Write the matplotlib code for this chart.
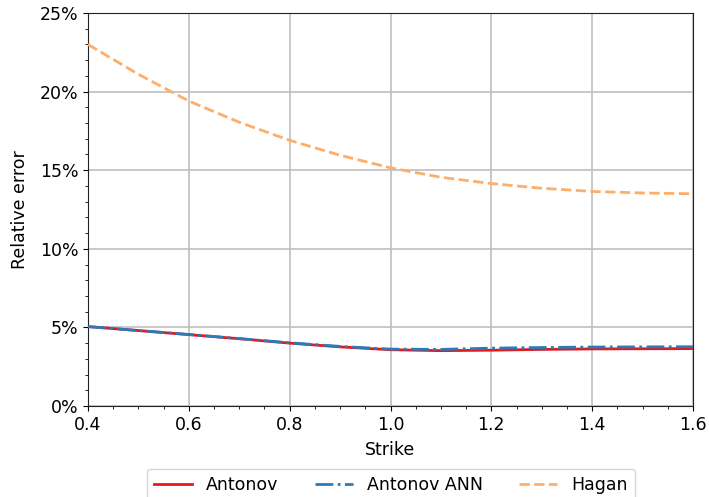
import numpy as np
import matplotlib.pyplot as plt
from matplotlib.ticker import MultipleLocator, PercentFormatter

ANTONOV_COLOR = "#e31a1c"
ANN_COLOR = "#2b7bba"
HAGAN_COLOR = "#fdae6b"

strikes = [0.4, 0.5, 0.6, 0.7, 0.8, 0.9, 1.0, 1.1, 1.2, 1.3, 1.4, 1.5, 1.6]
hagan = [23.0, 21.1, 19.4, 18.05, 16.9, 15.95, 15.15, 14.55, 14.15, 13.85, 13.65, 13.55, 13.5]
antonov = [5.05, 4.8, 4.54, 4.28, 4.0, 3.76, 3.58, 3.52, 3.55, 3.6, 3.63, 3.64, 3.65]
antonov_ann = [5.05, 4.8, 4.55, 4.29, 4.02, 3.79, 3.62, 3.6, 3.68, 3.72, 3.75, 3.76, 3.77]

fig = plt.figure(figsize=(7.09, 4.97), dpi=100)
ax = fig.add_axes([88 / 709, 1 - 406 / 497, (693 - 88) / 709, (406 - 13) / 497])

ax.plot(strikes, antonov, color=ANTONOV_COLOR, lw=2, label="Antonov", zorder=3)
ax.plot(strikes, antonov_ann, color=ANN_COLOR, lw=2, ls="-.", label="Antonov ANN", zorder=4)
ax.plot(strikes, hagan, color=HAGAN_COLOR, lw=2, ls="--", label="Hagan", zorder=3)

ax.set_xlim(0.4, 1.6)
ax.set_ylim(0, 25)
ax.xaxis.set_major_locator(MultipleLocator(0.2))
ax.xaxis.set_minor_locator(MultipleLocator(0.05))
ax.yaxis.set_major_locator(MultipleLocator(5))
ax.yaxis.set_minor_locator(MultipleLocator(1))
ax.yaxis.set_major_formatter(PercentFormatter(decimals=0))
ax.tick_params(labelsize=12.5)
ax.grid(True, which="major", color="#bfbfbf", lw=1.2)
ax.set_axisbelow(True)
for s in ax.spines.values():
    s.set_color("#222222")

ax.set_xlabel("Strike", fontsize=12.5, labelpad=5.5)
ax.set_ylabel("Relative error", fontsize=12.5, labelpad=8)

fig.legend(loc="upper center", bbox_to_anchor=(0.551, 1 - 469 / 497), ncol=3,
           fontsize=12.5, frameon=True, columnspacing=2.1, handlelength=2.2,
           borderaxespad=0)

fig.savefig("out.png", dpi=100)
